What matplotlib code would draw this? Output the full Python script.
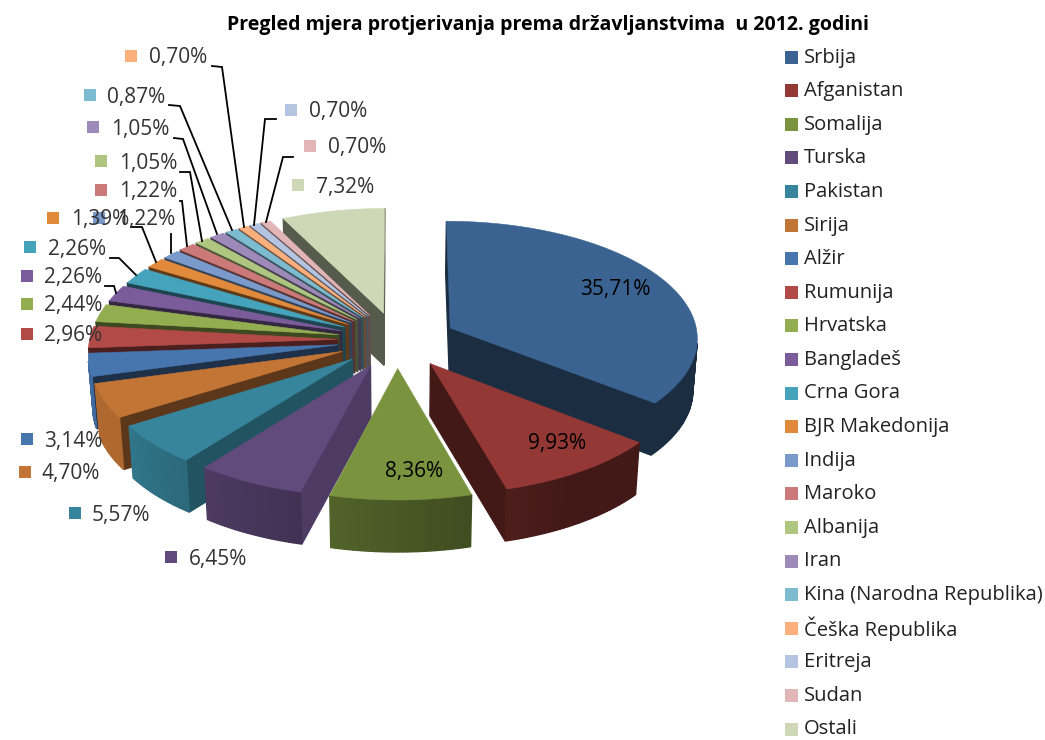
import matplotlib
matplotlib.use('Agg')
import matplotlib.pyplot as plt
import numpy as np

countries = ['Srbija', 'Afganistan', 'Somalija', 'Turska', 'Pakistan', 'Sirija', 'Alžir', 'Rumunija',
             'Hrvatska', 'Bangladeš', 'Crna Gora', 'BJR Makedonija', 'Indija', 'Maroko', 'Albanija',
             'Iran', 'Kina (Narodna Republika)', 'Češka Republika', 'Eritreja', 'Sudan', 'Ostali']
shares = [35.71, 9.93, 8.36, 6.45, 5.57, 4.70, 3.14, 2.96, 2.44, 2.26, 2.26, 1.39, 1.22, 1.22, 1.05,
          1.05, 0.87, 0.70, 0.70, 0.70, 7.32]
colors = ['#3b6391', '#943835', '#7a933f', '#614a7c', '#37859c', '#c27535', '#4775ae', '#b24a47',
          '#93ae50', '#7a5c9a', '#45a3bc', '#e28a3b', '#7a9acb', '#cb7a79', '#aec680', '#9e8ab8',
          '#7cbbd0', '#fbaf7c', '#b5c4e0', '#e2b6b6', '#cfd8b6']

# where each label sits in the picture: marker centre x, text x, y
label_pos = [(563, 580, 289), (507, 528, 443), (367, 385, 472), (171, 189, 559), (75, 92, 515),
             (25, 42, 474), (27, 44, 441), (27, 44, 336), (27, 44, 306), (27, 44, 278), (30, 48, 249),
             (53, 71, 220), (99, 117, 220), (101, 119, 192), (101, 119, 163), (93, 111, 129),
             (90, 107, 97), (131, 149, 58), (291, 309, 112), (310, 328, 148), (298, 316, 187)]
leaders = [[(276, 119), (265, 119), (254, 225)], [(293, 157), (283, 157), (266, 222)],
           [(212, 66), (222, 67), (244, 227)], [(169, 105), (180, 106), (232, 230)],
           [(174, 138), (183, 139), (217, 234)], [(180, 172), (190, 172), (202, 241)],
           [(180, 201), (182, 201), (187, 246)], [(171, 234), (171, 253)],
           [(131, 227), (142, 227), (156, 262)], [(110, 258), (119, 258), (136, 275)],
           [(105, 286), (114, 286), (116, 293)]]

CX, CY = 397, 340
RX, RY = 248, 116.7
PERSP = 0.077
EXPLODE = 0.24
DEPTH = 52
FONT = 'Open Sans'


def project(x, y, low=False):
    s = 1 / (1 + PERSP * y)
    if low:
        return CX + RX * x * s * 0.985, CY - RY * y * s + DEPTH
    return CX + RX * x * s, CY - RY * y * s


def shade(color, f):
    return tuple(c * f for c in matplotlib.colors.to_rgb(color))


def arc_factor(deg):
    return np.clip(0.45 + (deg - 150) / 90 * 0.45, 0.45, 0.9)


def radial_factor(deg):
    if deg < 190:
        return 0.45
    return np.clip(0.8 - (deg - 194) * 0.0075, 0.42, 0.8)


def draw_wall(ax, a, b, color):
    # a -> b runs clockwise round the slice seen from above, keep only faces toward the viewer
    xs = [a[0], b[0], b[2], a[2]]
    ys = [a[1], b[1], b[3], a[3]]
    area = sum(xs[i] * ys[(i + 1) % 4] - xs[(i + 1) % 4] * ys[i] for i in range(4))
    if area < 0:
        ax.fill(xs, ys, facecolor=color, edgecolor=color, lw=1.0)


def corner(x, y):
    return project(x, y) + project(x, y, low=True)


fig, ax = plt.subplots(figsize=(10.45, 7.4), dpi=100)
ax.set_position([0, 0, 1, 1])
ax.set_xlim(0, 1045)
ax.set_ylim(740, 0)
ax.axis('off')

edges = np.concatenate([[0], np.cumsum(shares)]) / np.sum(shares) * 360
mids = (edges[:-1] + edges[1:]) / 2
order = np.argsort(-np.cos(np.radians(mids)))

for i in order:
    mid = np.radians(mids[i])
    ox, oy = EXPLODE * np.sin(mid), EXPLODE * np.cos(mid)
    deg = np.linspace(edges[i], edges[i + 1], max(3, int(edges[i + 1] - edges[i]) + 2))
    ex = ox + np.sin(np.radians(deg))
    ey = oy + np.cos(np.radians(deg))

    draw_wall(ax, corner(ox, oy), corner(ex[0], ey[0]), shade(colors[i], radial_factor(edges[i])))
    draw_wall(ax, corner(ex[-1], ey[-1]), corner(ox, oy), shade(colors[i], radial_factor(edges[i])))
    for k in range(len(deg) - 1):
        draw_wall(ax, corner(ex[k], ey[k]), corner(ex[k + 1], ey[k + 1]),
                  shade(colors[i], arc_factor(deg[k])))

    tx, ty = project(np.r_[ox, ex], np.r_[oy, ey])
    ax.fill(tx, ty, color=colors[i], lw=0.4)

for line in leaders:
    ax.plot(*zip(*line), color='black', lw=1.3, solid_joinstyle='miter')

for i, (mx, tx, y) in enumerate(label_pos):
    ax.add_patch(plt.Rectangle((mx - 6, y - 8), 12, 12, color=colors[i], lw=0))
    text = f'{shares[i]:.2f}%'.replace('.', ',')
    ax.text(tx, y, text, family=FONT, fontsize=15, va='center', ha='left',
            color='black' if i < 3 else '#333333')

for i, name in enumerate(countries):
    y = 57.5 + i * 33.6
    ax.add_patch(plt.Rectangle((785, y - 7), 13, 13, color=colors[i], lw=0))
    ax.text(804, y, name, family=FONT, fontsize=14.5, va='center', ha='left', color='#222222')

ax.text(548, 25, 'Pregled mjera protjerivanja prema državljanstvima  u 2012. godini', family=FONT,
        fontsize=14, fontweight='bold', ha='center', va='center', color='black')

fig.savefig('out.png', dpi=100)
